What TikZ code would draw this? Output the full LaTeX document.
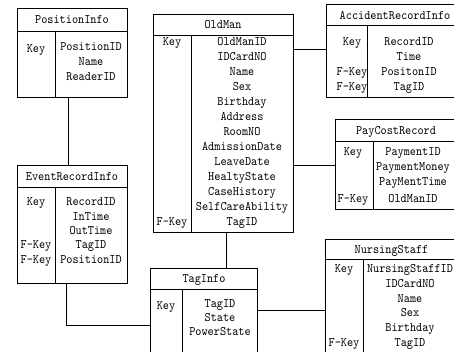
\documentclass[tikz,border=0pt]{standalone}
\usepackage{fontspec}
\setmainfont{lmmono10-regular.otf}[FakeStretch=0.9]
\usepackage{tikz}

\tikzset{
  cell/.style={draw, line width=0.9pt, inner sep=0pt, outer sep=0pt, anchor=north west},
  lbl/.style={align=center, inner sep=0pt, anchor=north, execute at begin node=\rule{0pt}{10pt}},
  link/.style={draw, line width=0.9pt},
}

\begin{document}
\begin{tikzpicture}[x=1pt, y=-1pt, font=\fontsize{13}{15}\selectfont]
\useasboundingbox (0,0) rectangle (454,351);
\clip (0,0) rectangle (454,351);

% PositionInfo
\node[cell, minimum width=110pt, minimum height=23pt] (posHead) at (17,8) {};
\node[cell, minimum width=38pt, minimum height=66pt] (posKey) at (17,31) {};
\node[cell, minimum width=72pt, minimum height=66pt] (posField) at (55,31) {};
\node[lbl] (posTitle) at (72,13.5) {PositionInfo};
\node[lbl] (posKeys) at (36,42) {Key};
\node[lbl] (posFields) at (91,42) {PositionID\\Name\\ReaderID};

% EventRecordInfo
\node[cell, minimum width=110pt, minimum height=22pt] (evtHead) at (17,165) {};
\node[cell, minimum width=38pt, minimum height=96pt] (evtKey) at (17,187) {};
\node[cell, minimum width=72pt, minimum height=96pt] (evtField) at (55,187) {};
\node[lbl] (evtTitle) at (72,170.5) {EventRecordInfo};
\node[lbl, font=\fontsize{13}{14.3}\selectfont] (evtKeys) at (36,197.7) {Key\\[28.6pt]F-Key\\F-Key};
\node[lbl, font=\fontsize{13}{14.3}\selectfont] (evtFields) at (91,197.7) {RecordID\\InTime\\OutTime\\TagID\\PositionID};

% OldMan
\node[cell, minimum width=140pt, minimum height=21pt] (omHead) at (153,14) {};
\node[cell, minimum width=38pt, minimum height=197pt] (omKey) at (153,35) {};
\node[cell, minimum width=102pt, minimum height=197pt] (omField) at (191,35) {};
\node[lbl] (omTitle) at (223,18.7) {OldMan};
\node[lbl] (omKeys) at (172,37.7) {Key\\[165pt]F-Key};
\node[lbl] (omFields) at (242,37.7) {OldManID\\IDCardNO\\Name\\Sex\\Birthday\\Address\\RoomNO\\AdmissionDate\\LeaveDate\\HealtyState\\CaseHistory\\SelfCareAbility\\TagID};

% AccidentRecordInfo
\node[cell, minimum width=136pt, minimum height=21pt] (accHead) at (326,4) {};
\node[cell, minimum width=41pt, minimum height=72pt] (accKey) at (326,25) {};
\node[cell, minimum width=95pt, minimum height=72pt] (accField) at (367,25) {};
\node[lbl] (accTitle) at (395,9) {AccidentRecordInfo};
\node[lbl] (accKeys) at (352,37.5) {Key\\[15pt]F-Key\\F-Key};
\node[lbl] (accFields) at (409,37.5) {RecordID\\Time\\PositonID\\TagID};

% PayCostRecord
\node[cell, minimum width=130pt, minimum height=22pt] (payHead) at (335,119) {};
\node[cell, minimum width=38pt, minimum height=68pt] (payKey) at (335,141) {};
\node[cell, minimum width=92pt, minimum height=68pt] (payField) at (373,141) {};
\node[lbl] (payTitle) at (396,124) {PayCostRecord};
\node[lbl] (payKeys) at (353,147) {Key\\[32pt]F-Key};
\node[lbl] (payFields) at (413,147) {PaymentID\\PaymentMoney\\PayMentTime\\[2pt]OldManID};

% NursingStaff
\node[cell, minimum width=135pt, minimum height=20pt] (nurHead) at (325,239) {};
\node[cell, minimum width=38pt, minimum height=110pt] (nurKey) at (325,259) {};
\node[cell, minimum width=97pt, minimum height=110pt] (nurField) at (363,259) {};
\node[lbl] (nurTitle) at (391.5,243) {NursingStaff};
\node[lbl, font=\fontsize{13}{14.7}\selectfont] (nurKeys) at (344,264.5) {Key\\[58.8pt]F-Key};
\node[lbl, font=\fontsize{13}{14.7}\selectfont] (nurFields) at (410,264.5) {NursingStaffID\\IDCardNO\\Name\\Sex\\Birthday\\TagID};

% TagInfo
\node[cell, minimum width=107pt, minimum height=21pt] (tagHead) at (150,268) {};
\node[cell, minimum width=32pt, minimum height=80pt] (tagKey) at (150,289) {};
\node[cell, minimum width=75pt, minimum height=80pt] (tagField) at (182,289) {};
\node[lbl] (tagTitle) at (204,272.5) {TagInfo};
\node[lbl] (tagKeys) at (166,299.5) {Key};
\node[lbl, font=\fontsize{13}{14}\selectfont] (tagFields) at (220,299.5) {TagID\\State\\PowerState};

% links
\coordinate (posDrop) at ([xshift=13pt]posField.south west);
\draw[link] (posDrop) -- (posDrop |- evtHead.north);
\coordinate (evtDrop) at ([xshift=11pt]evtField.south west);
\draw[link] (evtDrop) |- ([yshift=4pt]tagKey.west);
\coordinate (omDrop) at ([xshift=35pt]omField.south west);
\draw[link] (omDrop) -- (omDrop |- tagHead.north);
\coordinate (omAcc) at ([yshift=-14pt]omField.north east);
\draw[link] (omAcc) -- (omAcc -| accKey.west);
\coordinate (omPay) at ([yshift=-130pt]omField.north east);
\draw[link] (omPay) -- (omPay -| payKey.west);
\coordinate (tagNur) at ([yshift=-21pt]tagField.north east);
\draw[link] (tagNur) -- (tagNur -| nurKey.west);
\end{tikzpicture}
\end{document}
